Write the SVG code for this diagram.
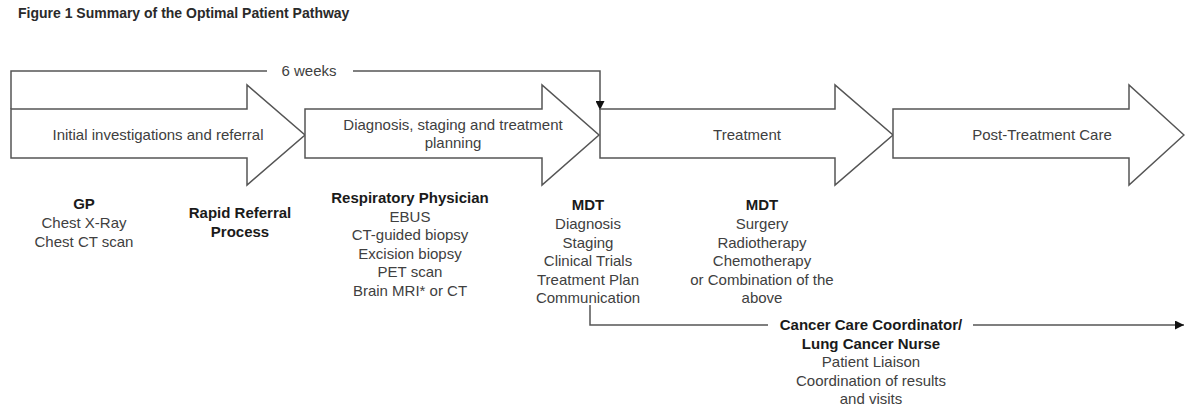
<svg xmlns="http://www.w3.org/2000/svg" width="1185" height="409" viewBox="0 0 1185 409">
  <style>
    .arrow { fill: #ffffff; stroke: #555555; stroke-width: 1.5; stroke-linejoin: miter; }
    .conn { fill: none; stroke: #555555; stroke-width: 1.5; }
    .lbl { font-family: "Liberation Sans", Arial, sans-serif; font-size: 15px; fill: #404040; text-anchor: middle; }
    .hd { font-family: "Liberation Sans", Arial, sans-serif; font-size: 15px; font-weight: bold; fill: #1a1a1a; text-anchor: middle; }
    .title { font-family: "Liberation Sans", Arial, sans-serif; font-size: 14px; font-weight: bold; fill: #2a2a2a; }
  </style>
  <defs>
    <marker id="ah" viewBox="0 0 10 10" refX="10" refY="5" markerWidth="9" markerHeight="9" markerUnits="userSpaceOnUse" orient="auto">
      <path d="M0,0 L10,5 L0,10 Z" fill="#111111"/>
    </marker>
  </defs>
  <rect width="1185" height="409" fill="#ffffff"/>

  <text id="title" class="title" x="18" y="18">Figure 1 Summary of the Optimal Patient Pathway</text>

  <g id="connectors">
    <polyline class="conn" points="11,109 11,71 267,71"/>
    <polyline class="conn" points="353,71 600,71 600,110" marker-end="url(#ah)"/>
    <text class="lbl" x="309" y="76">6 weeks</text>
    <polyline class="conn" points="590,305 590,325 768,325"/>
    <line class="conn" x1="973" y1="325" x2="1184" y2="325" marker-end="url(#ah)"/>
  </g>

  <g id="stage-initial">
    <path class="arrow" d="M11,109 L247,109 L247,85 L305,135 L247,185 L247,158 L11,158 Z"/>
    <text class="lbl" x="158" y="140">Initial investigations and referral</text>
  </g>
  <g id="stage-diagnosis">
    <path class="arrow" d="M305,109 L542,109 L542,85 L599,135 L542,185 L542,158 L305,158 Z"/>
    <text class="lbl" x="453" y="130">Diagnosis, staging and treatment</text>
    <text class="lbl" x="453" y="148">planning</text>
  </g>
  <g id="stage-treatment">
    <path class="arrow" d="M600,109 L835,109 L835,85 L893,135 L835,185 L835,158 L600,158 Z"/>
    <text class="lbl" x="747" y="140">Treatment</text>
  </g>
  <g id="stage-post">
    <path class="arrow" d="M893,109 L1129,109 L1129,85 L1184,135 L1129,185 L1129,158 L893,158 Z"/>
    <text class="lbl" x="1042" y="140">Post-Treatment Care</text>
  </g>

  <g id="role-gp">
    <text class="hd" x="84" y="209">GP</text>
    <text class="lbl" x="84" y="228">Chest X-Ray</text>
    <text class="lbl" x="84" y="247">Chest CT scan</text>
  </g>
  <g id="role-rapid">
    <text class="hd" x="240" y="218">Rapid Referral</text>
    <text class="hd" x="240" y="237">Process</text>
  </g>
  <g id="role-respiratory">
    <text class="hd" x="410" y="203">Respiratory Physician</text>
    <text class="lbl" x="410" y="221.5">EBUS</text>
    <text class="lbl" x="410" y="240">CT-guided biopsy</text>
    <text class="lbl" x="410" y="258.5">Excision biopsy</text>
    <text class="lbl" x="410" y="277">PET scan</text>
    <text class="lbl" x="410" y="295.5">Brain MRI* or CT</text>
  </g>
  <g id="role-mdt-diagnosis">
    <text class="hd" x="588" y="210">MDT</text>
    <text class="lbl" x="588" y="229">Diagnosis</text>
    <text class="lbl" x="588" y="247.5">Staging</text>
    <text class="lbl" x="588" y="266">Clinical Trials</text>
    <text class="lbl" x="588" y="284.5">Treatment Plan</text>
    <text class="lbl" x="588" y="303">Communication</text>
  </g>
  <g id="role-mdt-treatment">
    <text class="hd" x="762" y="210">MDT</text>
    <text class="lbl" x="762" y="229">Surgery</text>
    <text class="lbl" x="762" y="247.5">Radiotherapy</text>
    <text class="lbl" x="762" y="266">Chemotherapy</text>
    <text class="lbl" x="762" y="284.5">or Combination of the</text>
    <text class="lbl" x="762" y="303">above</text>
  </g>
  <g id="role-coordinator">
    <text class="hd" x="871" y="330">Cancer Care Coordinator/</text>
    <text class="hd" x="871" y="348.5">Lung Cancer Nurse</text>
    <text class="lbl" x="871" y="367">Patient Liaison</text>
    <text class="lbl" x="871" y="385.5">Coordination of results</text>
    <text class="lbl" x="871" y="404">and visits</text>
  </g>
</svg>
